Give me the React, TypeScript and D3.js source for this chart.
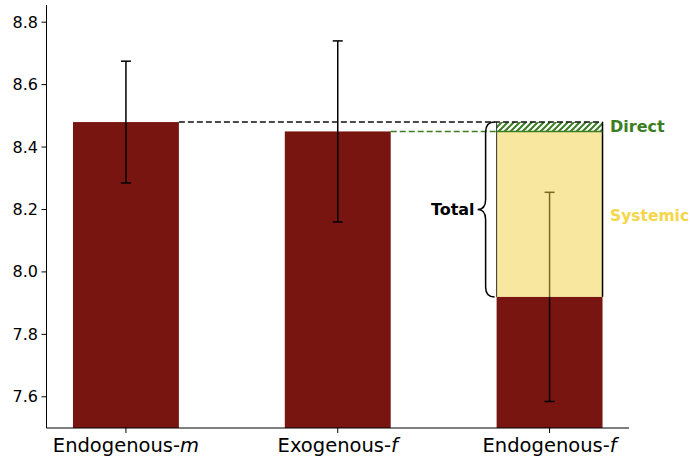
import React from "react";
import * as d3 from "d3";

const categories = ["Endogenous-", "Exogenous-", "Endogenous-"];
const categoryItalic = ["m", "f", "f"];
const values = [8.48, 8.45, 7.92];
const errors = [0.195, 0.29, 0.335];
const yTicks = [7.6, 7.8, 8.0, 8.2, 8.4, 8.6, 8.8];
const totalTop = 8.48;
const directBottom = 8.45;

const W = 690;
const H = 459;

export default function App() {
  const x = d3.scaleLinear().domain([-0.375, 2.375]).range([46.5, 629]);
  const y = d3.scaleLinear().domain([7.5, 8.855]).range([428, 5]);
  const bw = x(0.25) - x(0);
  const barColor = "#781510";
  const green = "#3c7d23";
  const font = "DejaVu Sans, sans-serif";
  const x3 = x(2);
  const yTop = y(totalTop);
  const yDir = y(directBottom);
  const yBot = y(values[2]);
  const yMid = (yTop + yBot) / 2;
  const bx = x3 - bw - 11;
  const brace = `M ${bx + 9},${yTop} Q ${bx},${yTop} ${bx},${yTop + 10} L ${bx},${yMid - 10} Q ${bx},${yMid} ${bx - 8},${yMid} Q ${bx},${yMid} ${bx},${yMid + 10} L ${bx},${yBot - 10} Q ${bx},${yBot} ${bx + 9},${yBot}`;

  return (
    <svg width={W} height={H} style={{ position: "absolute", left: 0, top: 0, background: "#fff" }} fontFamily={font}>
      <defs>
        <pattern id="hatch" patternUnits="userSpaceOnUse" width={6} height={6}>
          <path d="M-1,1 L1,-1 M0,6 L6,0 M5,7 L7,5" stroke={green} strokeWidth={2} />
        </pattern>
      </defs>
      {values.map((v, i) => (
        <rect key={i} x={x(i) - bw} y={y(v)} width={bw * 2} height={y(7.5) - y(v)} fill={barColor} />
      ))}
      {values.map((v, i) => (
        <g key={"e" + i} stroke="#000" strokeWidth={1.5}>
          <line x1={x(i)} x2={x(i)} y1={y(v + errors[i])} y2={y(v - errors[i])} />
          <line x1={x(i) - 5} x2={x(i) + 5} y1={y(v + errors[i])} y2={y(v + errors[i])} />
          <line x1={x(i) - 5} x2={x(i) + 5} y1={y(v - errors[i])} y2={y(v - errors[i])} />
        </g>
      ))}
      <rect x={x3 - bw} y={yDir} width={bw * 2} height={yBot - yDir} fill="#f0d040" fillOpacity={0.5} />
      <rect x={x3 - bw} y={yTop} width={bw * 2} height={yDir - yTop} fill="url(#hatch)" />
      <line x1={x3 + bw} x2={x3 + bw} y1={yTop} y2={yBot} stroke="#000" strokeWidth={1.5} />
      <line x1={x3 - bw} x2={x3 - bw} y1={yTop} y2={yBot} stroke="#000" strokeWidth={0.8} />
      <line x1={x3 - bw} x2={x3 + bw} y1={yDir} y2={yDir} stroke={green} strokeWidth={1.5} />
      <line x1={x(0) + bw} x2={x3 + bw} y1={yTop} y2={yTop} stroke="#111" strokeWidth={1.6} strokeDasharray="6,3" />
      <line x1={x(1) + bw} x2={x3 - bw} y1={yDir} y2={yDir} stroke={green} strokeWidth={1.6} strokeDasharray="6,3" />
      <path d={brace} fill="none" stroke="#000" strokeWidth={1.5} />
      <text x={bx - 11} y={yMid} fontSize={16} fontWeight="bold" textAnchor="end" dominantBaseline="central">Total</text>
      <text x={610} y={y(8.465)} fontSize={16} fontWeight="bold" fill={green} dominantBaseline="central">Direct</text>
      <text x={610} y={y(8.18)} fontSize={15.5} fontWeight="bold" fill="#f4d648" dominantBaseline="central">Systemic</text>
      <line x1={46.5} x2={46.5} y1={5} y2={428} stroke="#000" strokeWidth={1} />
      <line x1={46.5} x2={629} y1={428} y2={428} stroke="#000" strokeWidth={1} />
      {yTicks.map((t) => (
        <g key={t}>
          <line x1={41.5} x2={46.5} y1={y(t)} y2={y(t)} stroke="#000" />
          <text x={38} y={y(t)} fontSize={16} textAnchor="end" dominantBaseline="central">{t.toFixed(1)}</text>
        </g>
      ))}
      {categories.map((c, i) => (
        <g key={"x" + i}>
          <line x1={x(i)} x2={x(i)} y1={428} y2={433} stroke="#000" />
          <text x={x(i)} y={452} fontSize={19.5} textAnchor="middle">
            {c}<tspan fontStyle="italic">{categoryItalic[i]}</tspan>
          </text>
        </g>
      ))}
    </svg>
  );
}
